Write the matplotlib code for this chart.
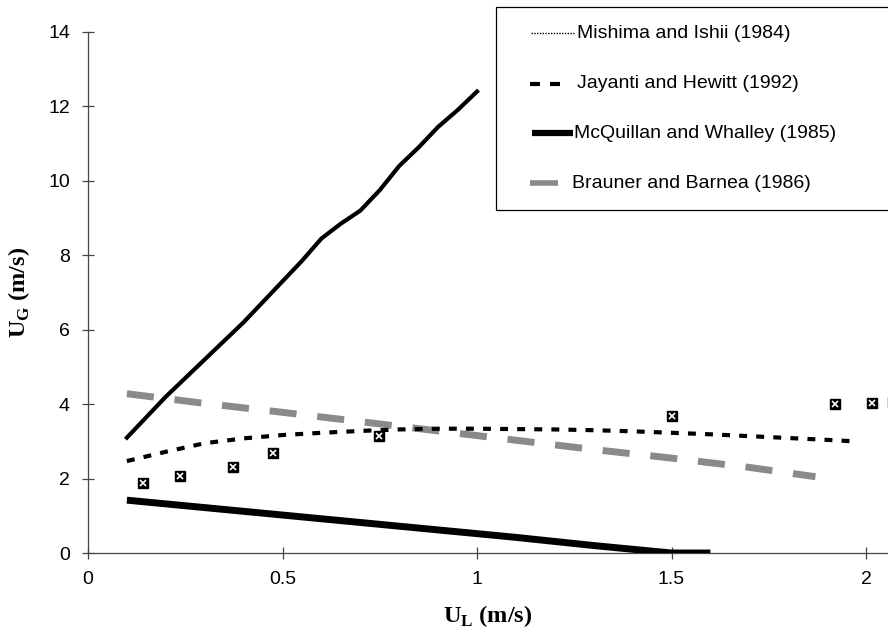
import matplotlib
matplotlib.use("Agg")
import matplotlib.pyplot as plt
from matplotlib.lines import Line2D
from matplotlib.patches import Rectangle

# ---- data ----
steep_x = [0.10, 0.15, 0.20, 0.25, 0.30, 0.35, 0.40, 0.45, 0.50, 0.55, 0.60, 0.65, 0.70, 0.75, 0.80, 0.85, 0.90, 0.95, 1.00]
steep_y = [3.10, 3.65, 4.20, 4.70, 5.20, 5.70, 6.20, 6.75, 7.30, 7.85, 8.45, 8.85, 9.20, 9.75, 10.40, 10.90, 11.45, 11.90, 12.40]

jay_x = [0.10, 0.20, 0.30, 0.40, 0.50, 0.60, 0.70, 0.80, 0.90, 1.00, 1.10, 1.20, 1.30, 1.40, 1.50, 1.60, 1.70, 1.80, 1.90, 1.97]
jay_y = [2.47, 2.72, 2.95, 3.08, 3.17, 3.23, 3.28, 3.32, 3.34, 3.34, 3.33, 3.32, 3.30, 3.27, 3.23, 3.19, 3.14, 3.09, 3.04, 3.00]

brau_x = [0.10, 0.30, 0.50, 0.70, 0.90, 1.10, 1.30, 1.50, 1.70, 1.87]
brau_y = [4.28, 4.02, 3.78, 3.53, 3.28, 3.03, 2.78, 2.55, 2.30, 2.05]

mcq_x = [0.10, 0.30, 0.50, 0.70, 0.90, 1.10, 1.30, 1.50, 1.60]
mcq_y = [1.42, 1.22, 1.02, 0.82, 0.62, 0.42, 0.20, 0.00, 0.00]

exp_x = [0.142, 0.237, 0.372, 0.476, 0.748, 1.50, 1.92, 2.015, 2.07]
exp_y = [1.88, 2.06, 2.31, 2.69, 3.14, 3.68, 4.00, 4.03, 4.05]

labels = ["Mishima and Ishii (1984)", "Jayanti and Hewitt (1992)",
          "McQuillan and Whalley (1985)", "Brauner and Barnea (1986)"]

xticks = [0, 0.5, 1, 1.5, 2]
xtick_labels = ["0", "0.5", "1", "1.5", "2"]
yticks = [0, 2, 4, 6, 8, 10, 12, 14]

plt.rcParams['font.family'] = ['Liberation Sans', 'DejaVu Sans']

W, H = 888, 637
fig = plt.figure(figsize=(W / 100, H / 100), dpi=100)
ax = fig.add_axes([88 / W, (H - 553) / H, 800 / W, (553 - 32) / H])
ax.set_xlim(0, 800 / 389.0)
ax.set_ylim(0, 14)

gray = "#8a8a8a"
ax.plot(brau_x, brau_y, color=gray, lw=5.0, dashes=(3.9, 3.0), solid_capstyle='butt', dash_capstyle='butt', zorder=2)
ax.plot(steep_x, steep_y, color="black", lw=3.0, zorder=3)
ax.plot(jay_x, jay_y, color="black", lw=3.0, dashes=(1.9, 2.2), dash_capstyle='butt', zorder=3)
ax.plot(mcq_x, mcq_y, color="black", lw=5.0, solid_capstyle='butt', zorder=3)
ax.plot(exp_x, exp_y, linestyle='none', marker='s', ms=6.5, mfc='black', mec='black', mew=1.0, zorder=4, clip_on=False)
ax.plot(exp_x, exp_y, linestyle='none', marker='x', ms=4.5, mec='white', mew=1.2, zorder=5, clip_on=False)

for s in ["top", "right"]:
    ax.spines[s].set_visible(False)
for s in ["left", "bottom"]:
    ax.spines[s].set_color("#444444")
    ax.spines[s].set_linewidth(0.9)

ax.set_xticks(xticks)
ax.set_xticklabels(xtick_labels)
ax.set_yticks(yticks)
ax.tick_params(direction='inout', length=8, width=0.9, color="#444444", labelsize=14)
ax.tick_params(axis='x', pad=9)
ax.tick_params(axis='y', pad=9)

ax.set_xlabel(r"U$_\mathregular{L}$ (m/s)", family="Liberation Serif", fontweight="bold", fontsize=17.5)
ax.set_ylabel(r"U$_\mathregular{G}$ (m/s)", family="Liberation Serif", fontweight="bold", fontsize=17.5)
ax.xaxis.set_label_coords(400 / 800, -50 / 521)
ax.yaxis.set_label_coords(-56 / 800, 0.5)

# ---- manual legend (pixel layout converted to figure fractions) ----
def fx(px):
    return px / W

def fy(py):
    return 1 - py / H

fig.add_artist(Rectangle((fx(496), fy(210)), fx(900) - fx(496), fy(7) - fy(210),
                         transform=fig.transFigure, facecolor='white', edgecolor='black',
                         linewidth=0.9, zorder=10))
rows = [33, 84, 133, 183]
styles = [
    dict(color="black", lw=1.0, linestyle=(0, (1, 1)), xs=(531, 574)),
    dict(color="black", lw=3.0, dashes=(2.4, 2.4), xs=(530, 564)),
    dict(color="black", lw=4.5, xs=(532, 573)),
    dict(color=gray, lw=4.0, xs=(530, 558)),
]
text_x = [577, 577, 574, 572]
for yrow, st, lab, tx in zip(rows, styles, labels, text_x):
    st = dict(st)
    x0, x1 = st.pop("xs")
    fig.add_artist(Line2D([fx(x0), fx(x1)], [fy(yrow), fy(yrow)], transform=fig.transFigure,
                          solid_capstyle='butt', dash_capstyle='butt', zorder=11, **st))
    fig.text(fx(tx), fy(yrow), lab, fontsize=14, va='center', ha='left', zorder=11)

fig.savefig("out.png", dpi=100)
